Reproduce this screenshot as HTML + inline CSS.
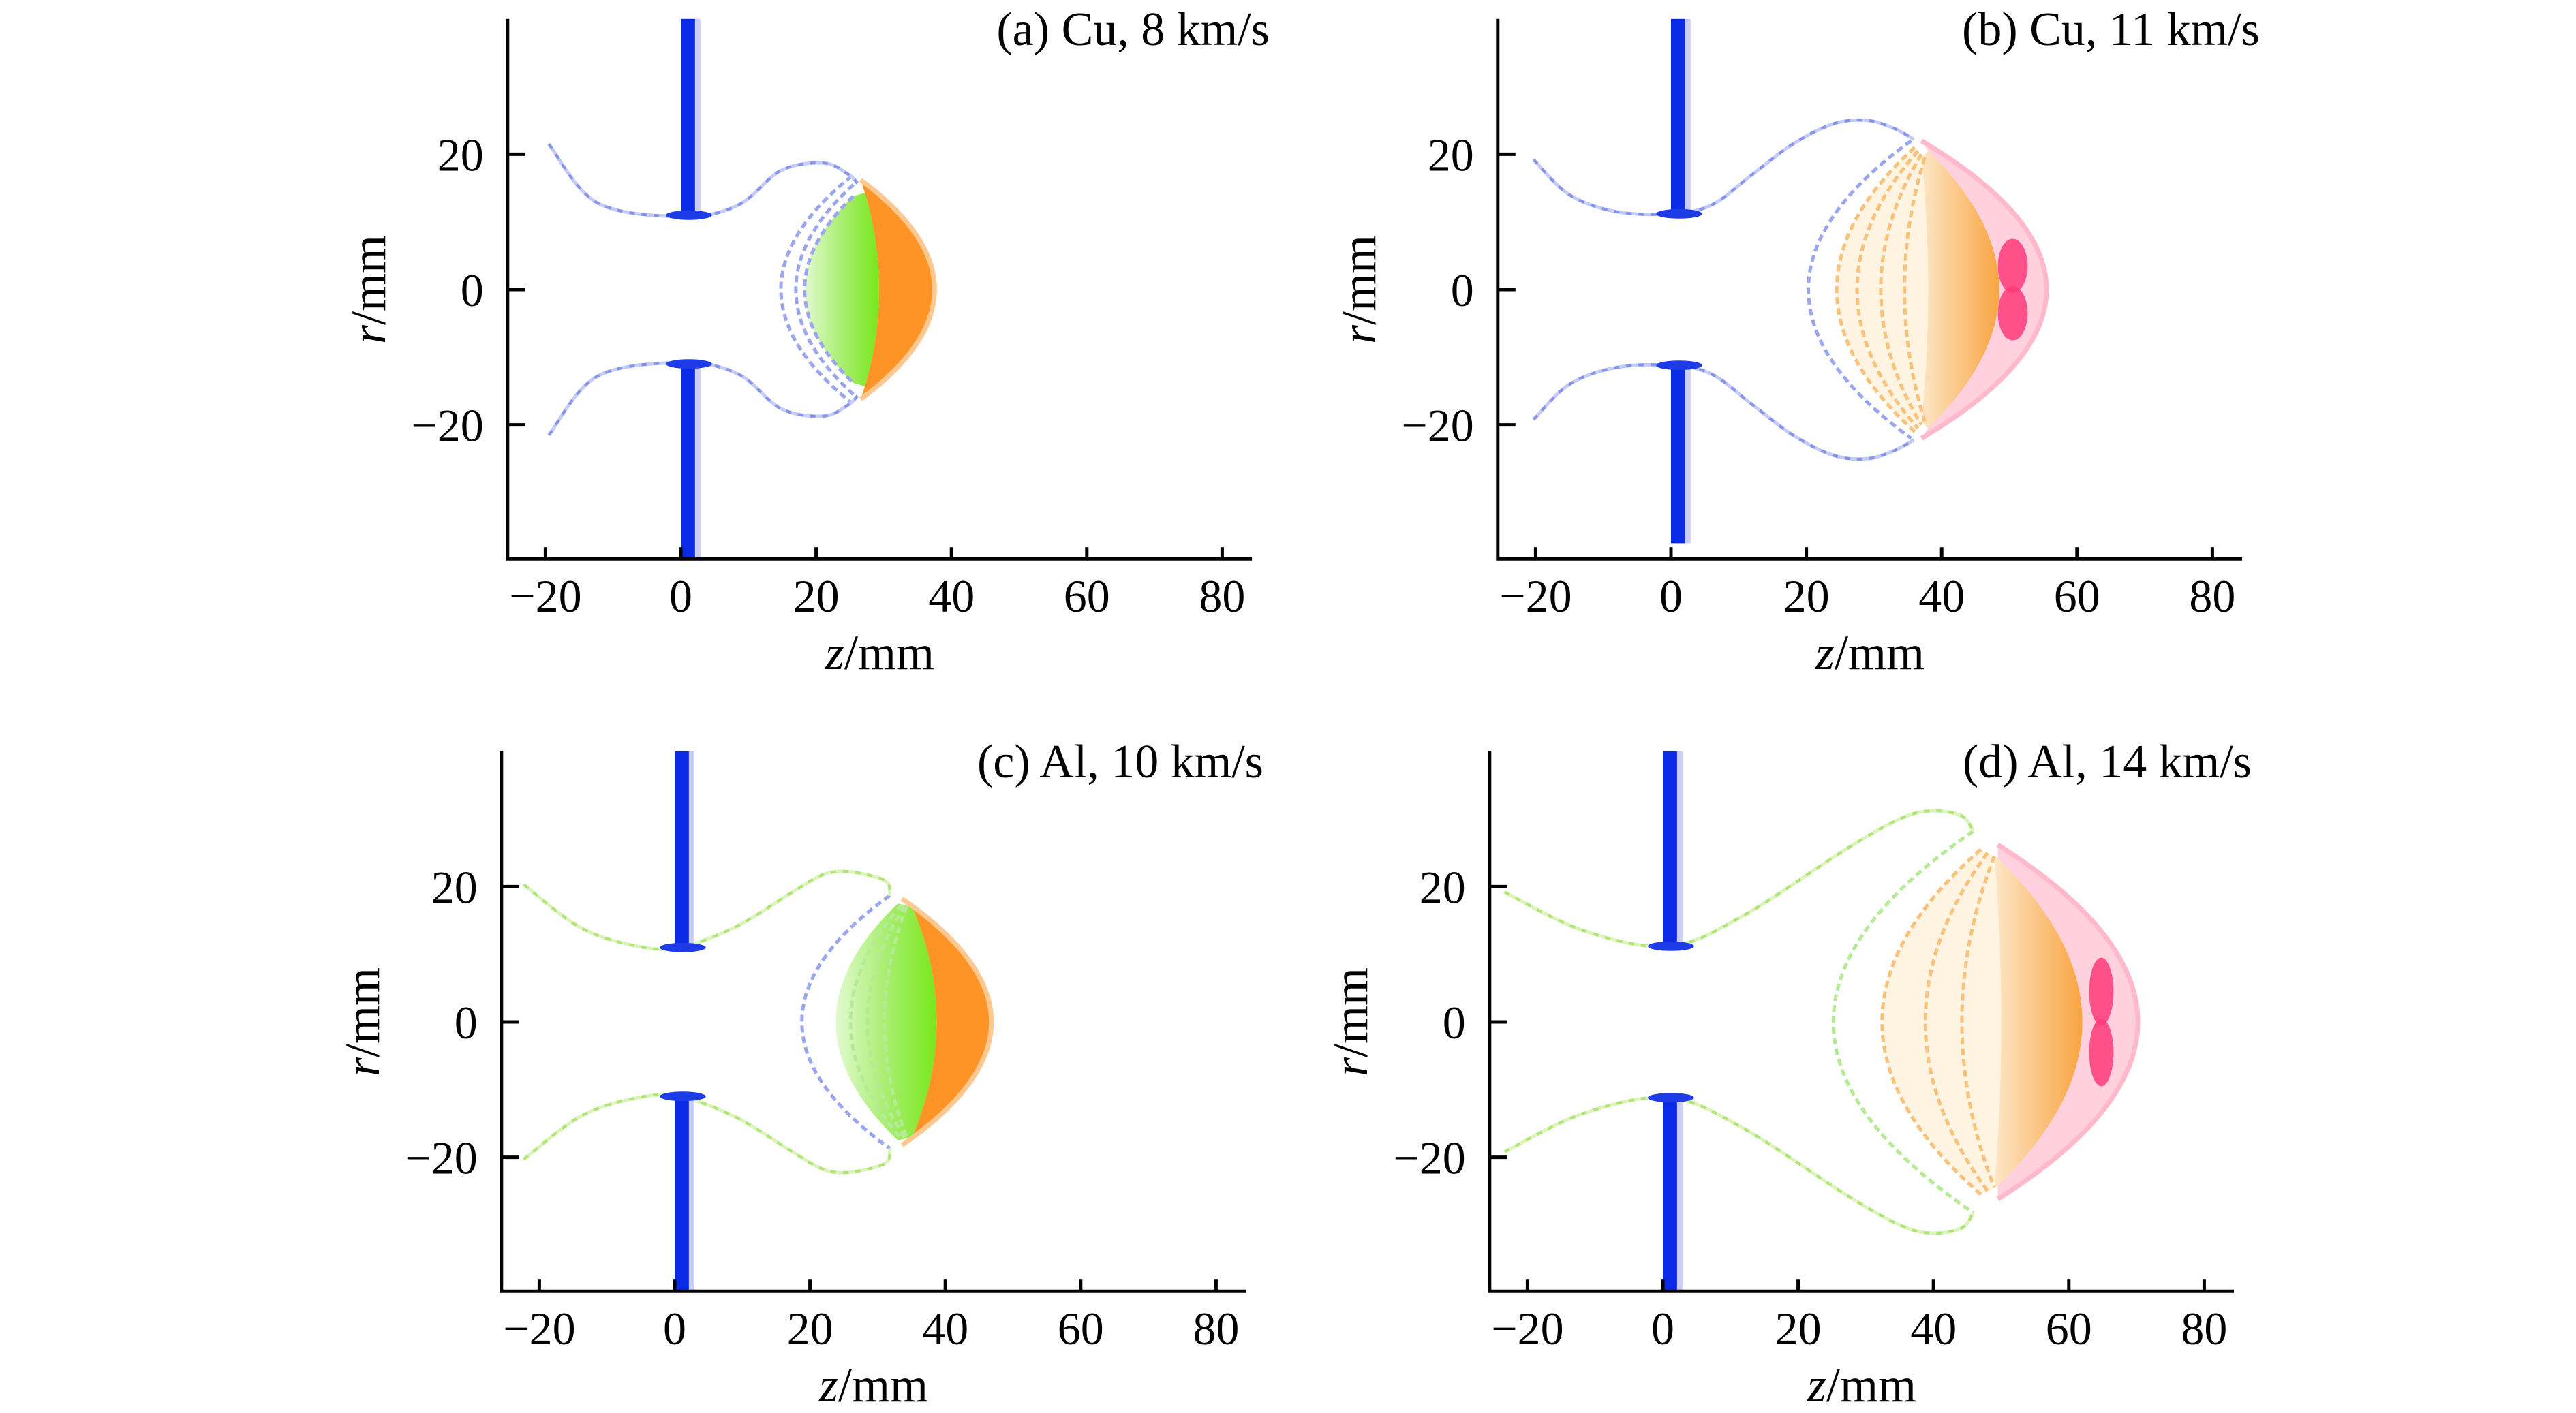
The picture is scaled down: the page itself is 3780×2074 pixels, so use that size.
<!DOCTYPE html>
<html><head><meta charset="utf-8">
<style>
html,body{margin:0;padding:0;background:#fff;}
svg{display:block;}
text{font-family:"Liberation Serif","Times New Roman",serif;fill:#000;}
</style></head>
<body>
<svg id="fig" width="3780" height="2074" viewBox="0 0 3780 2074" xmlns="http://www.w3.org/2000/svg">
<defs>
<linearGradient id="gGreen" x1="0" x2="1" y1="0" y2="0">
<stop offset="0" stop-color="#e2fad0"/><stop offset="0.5" stop-color="#a8ee70"/><stop offset="1" stop-color="#78e81a"/>
</linearGradient>
<linearGradient id="gOrangeD" x1="0" x2="1" y1="0" y2="0">
<stop offset="0" stop-color="#fde6c6"/><stop offset="1" stop-color="#f9a441"/>
</linearGradient>
</defs>
</svg>
<script>
// ---- data (mm) ----
const panelLabels = ["(a) Cu, 8 km/s", "(b) Cu, 11 km/s", "(c) Al, 10 km/s", "(d) Al, 14 km/s"];
const xTicks = [-20, 0, 20, 40, 60, 80];
const yTicks = [-20, 0, 20];
const barBottoms = [-40, -37.5, -40, -40];
const holeRadius = [11, 11.2, 11, 11.2];
// ejecta sheet (upper branch, mirrored for lower)
const ejectaA = [[-19.5,21.5],[-12.3,12.8],[0.4,10.8],[8.5,12.5],[14.8,17.6],[21.1,18.7],[24.8,17],[26.1,15.7]];
const ejectaB = [[-20.3,19.2],[-15,14],[-8,11.5],[0,11.2],[6,12.5],[12,17],[18,21.5],[24,24.5],[29,25],[33,23.8],[35.9,22.2]];
const ejectaC = [[-22.3,20.3],[-14,14],[-6,11.3],[0.5,11],[8.9,14],[17.4,19.2],[22,21.8],[25.9,22.2],[31.1,20.9],[31.8,18.7]];
const ejectaD = [[-23.4,19.2],[-11.7,13.5],[0.9,11.2],[11.7,15.6],[27,25.5],[35,30],[39.6,31.2],[44.1,30.5],[45.9,28.2]];
// filled zones: [outer zAxis, outer zEdge, outer rEdge, inner zAxis, inner zEdge, inner rEdge]
const zonesA = [[37.5,26.6,16.2,29.3,27.2,14.3],[29.3,27.2,14.3,18.3,25.5,13.8]];
const zoneKindsA = ["orange","green"];
const zonesB = [[55.5,37,22,48.5,38,20.5],[48.5,38,20.5,38,37,19.5],[38,37,19.5,24.5,36,21]];
const zoneKindsB = ["pink","orangeDense","orangePale"];
const zonesC = [[46.8,33.6,18.2,38.7,35.1,17],[38.7,35.1,17,23.8,33,17.5]];
const zoneKindsC = ["orange","green"];
const zonesD = [[70.2,49.5,26.2,62,49.5,24.2],[62,49.5,24.2,50,49,24.5],[50,49,24.5,32.4,47,25.5]];
const zoneKindsD = ["pink","orangeDense","orangePale"];
// shell lines: [zAxis, zEdge, rEdge]
const shellsA = [[14.8,25.3,16.8],[17,25.5,15.5],[18.3,25.5,13.8]];
const shellKindsA = ["blue","blue","blue"];
const shellsB = [[20.3,35.5,22],[24.5,36,21],[27.5,36.5,20.5],[31,37,20],[34.5,37.5,19.5]];
const shellKindsB = ["blue","orange","orange","orange","orange"];
const shellsC = [[18.8,31.8,18.7],[26,33.5,17.3],[28.5,34,17.2],[31,34.3,17.1]];
const shellKindsC = ["blue","green","green","green"];
const shellsD = [[25.2,45.9,28.2],[32.4,47,25.5],[38.8,48,25],[44.2,49,24.5]];
const shellKindsD = ["green","orange","orange","orange"];
// dense core blobs: [zCenter, rCenter, zHalf, rHalf]
const coresB = [[50.5,3.5,2.2,4],[50.5,-3.5,2.2,4]];
const coresD = [[64.8,4.5,1.8,5],[64.8,-4.5,1.8,5]];

// ---- layout ----
const layout = [
  {z0:999, r0:425, ejecta:ejectaA, zones:zonesA, zk:zoneKindsA, shells:shellsA, sk:shellKindsA, cores:[], ej:"blue"},
  {z0:2452, r0:425, ejecta:ejectaB, zones:zonesB, zk:zoneKindsB, shells:shellsB, sk:shellKindsB, cores:coresB, ej:"blue"},
  {z0:990, r0:1500, ejecta:ejectaC, zones:zonesC, zk:zoneKindsC, shells:shellsC, sk:shellKindsC, cores:[], ej:"green"},
  {z0:2440, r0:1500, ejecta:ejectaD, zones:zonesD, zk:zoneKindsD, shells:shellsD, sk:shellKindsD, cores:coresD, ej:"green"}
];
const K = 9.93;
const NS = "http://www.w3.org/2000/svg";
const svg = document.getElementById('fig');
const zoneFill = {orange:"#ff9426", green:"url(#gGreen)", pink:"#ffd0de", orangeDense:"url(#gOrangeD)", orangePale:"#fff3e2"};
const shellStroke = {blue:"#9ba6f0", orange:"#f8c27a", green:"#b4eb94"};

function mk(tag, attrs, parent){
  const e = document.createElementNS(NS, tag);
  for (const k in attrs) e.setAttribute(k, attrs[k]);
  parent.appendChild(e);
  return e;
}

layout.forEach((p, i) => {
  const X = z => p.z0 + z * K;
  const Y = r => p.r0 - r * K;
  const g = mk('g', {}, svg);
  
  
  const left = X(-25.6), right = X(84.4), bottom = Y(-39.8), top = Y(40);

  const shellPath = (za, ze, re, rev) => {
    const c = 2 * za - ze;
    return rev ? `L${X(ze)},${Y(-re)} Q${X(c)},${Y(0)} ${X(ze)},${Y(re)}`
               : `M${X(ze)},${Y(re)} Q${X(c)},${Y(0)} ${X(ze)},${Y(-re)}`;
  };
  p.zones.forEach((zn, j) => {
    const d = shellPath(zn[0], zn[1], zn[2], false) + ' ' + shellPath(zn[3], zn[4], zn[5], true) + ' Z';
    const el = mk('path', {d: d, fill: zoneFill[p.zk[j]], stroke: 'none'}, g);
    
    
  });
  p.shells.forEach((s, j) => {
    const el = mk('path', {d: shellPath(s[0], s[1], s[2], false), fill: 'none', stroke: shellStroke[p.sk[j]], 'stroke-width': 5, 'stroke-dasharray': '10 6'}, g);
    
    
  });
  p.cores.forEach(c => {
    const el = mk('ellipse', {cx: X(c[0]), cy: Y(c[1]), rx: c[2] * K, ry: c[3] * K, fill: '#ff3a7a', opacity: 0.85}, g);
    
    
  });
  if (p.zones.length) {
    const f = p.zones[0];
    const el = mk('path', {d: shellPath(f[0], f[1], f[2], false), fill: 'none', stroke: p.zk[0] === 'pink' ? '#ffb8cc' : '#ffc890', 'stroke-width': 7}, g);
    
    
  }

  [1, -1].forEach(sign => {
    const pts = p.ejecta.map(q => [X(q[0]), Y(sign * q[1])]);
    let d = `M${pts[0][0]},${pts[0][1]}`;
    for (let k = 0; k < pts.length - 1; k++) {
      const p0 = pts[Math.max(0, k - 1)], p1 = pts[k], p2 = pts[k + 1], p3 = pts[Math.min(pts.length - 1, k + 2)];
      d += ` C${p1[0] + (p2[0] - p0[0]) / 6},${p1[1] + (p2[1] - p0[1]) / 6} ${p2[0] - (p3[0] - p1[0]) / 6},${p2[1] - (p3[1] - p1[1]) / 6} ${p2[0]},${p2[1]}`;
    }
    const base = mk('path', {d: d, fill: 'none', stroke: p.ej === 'blue' ? '#c4cbf4' : '#dcf4bc', 'stroke-width': 5}, g);
    
    
    const dash = mk('path', {d: d, fill: 'none', stroke: p.ej === 'blue' ? '#8593ee' : '#aee676', 'stroke-width': 4, 'stroke-dasharray': '8 10'}, g);
    
    
  });

  const hr = holeRadius[i];
  [[40, hr], [-hr, barBottoms[i]]].forEach(seg => {
    const y1 = Y(seg[0]), y2 = Y(seg[1]);
    const pale = mk('rect', {x: X(2), y: y1, width: 0.9 * K, height: y2 - y1, fill: '#c9cdf6'}, g);
    
    
    const bar = mk('rect', {x: X(0), y: y1, width: 2.1 * K, height: y2 - y1, fill: '#0a2ae6'}, g);
    
    
  });
  [1, -1].forEach(sign => {
    const el = mk('ellipse', {cx: X(1.2), cy: Y(sign * hr), rx: 3.4 * K, ry: 0.7 * K, fill: '#1d3ce8'}, g);
    
    
  });

  const ax = mk('path', {d: `M${left},${top} L${left},${bottom} L${right},${bottom}`, fill: 'none', stroke: '#000', 'stroke-width': 5}, g);
  
  
  xTicks.forEach(t => {
    const tk = mk('line', {x1: X(t), x2: X(t), y1: bottom, y2: bottom - 17, stroke: '#000', 'stroke-width': 5}, g);
    
    
    const tx = mk('text', {x: X(t), y: bottom + 78, 'font-size': 68, 'text-anchor': 'middle'}, g);
    tx.textContent = t < 0 ? '\u2212' + (-t) : String(t);
    
    
  });
  yTicks.forEach(t => {
    const tk = mk('line', {x1: left, x2: left + 26, y1: Y(t), y2: Y(t), stroke: '#000', 'stroke-width': 5}, g);
    
    
    const tx = mk('text', {x: left - 35, y: Y(t) + 24, 'font-size': 68, 'text-anchor': 'end'}, g);
    tx.textContent = t < 0 ? '\u2212' + (-t) : String(t);
    
    
  });
  const xt = mk('text', {x: X(29.4), y: bottom + 162, 'font-size': 72, 'text-anchor': 'middle'}, g);
  xt.innerHTML = '<tspan font-style="italic">z</tspan>/mm';
  
  
  const yt = mk('text', {x: 0, y: 0, 'font-size': 72, 'text-anchor': 'middle', transform: `translate(${left - 180},${p.r0}) rotate(-90)`}, g);
  yt.innerHTML = '<tspan font-style="italic">r</tspan>/mm';
  
  
  const lb = mk('text', {x: X(87), y: Y(40) + 38, 'font-size': 70, 'text-anchor': 'end'}, g);
  lb.textContent = panelLabels[i];
  
  
});
</script>
</body></html>
